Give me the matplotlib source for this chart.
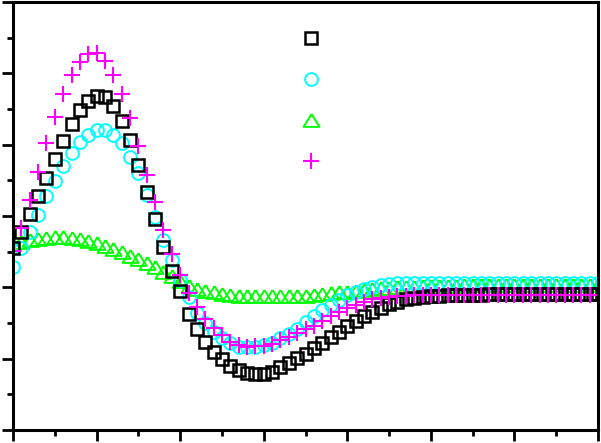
import numpy as np
import matplotlib
matplotlib.use('Agg')
from matplotlib import pyplot as plt
from matplotlib.ticker import MultipleLocator, NullFormatter

# 71 samples, step 0.1
x = np.round(np.arange(71) * 0.1, 1)

squares = [-0.90, -0.45, 0.06, 0.56, 1.07, 1.60, 2.10, 2.58, 2.97, 3.22,
           3.36, 3.34, 3.08, 2.66, 2.13, 1.43, 0.67, -0.08, -0.87, -1.54,
           -2.10, -2.75, -3.17, -3.53, -3.81, -4.01, -4.21, -4.32, -4.40, -4.43,
           -4.43, -4.37, -4.23, -4.12, -3.98, -3.87, -3.70, -3.56, -3.39, -3.25,
           -3.08, -2.94, -2.80, -2.69, -2.58, -2.47, -2.41, -2.33, -2.30, -2.27,
           -2.24, -2.23, -2.22, -2.21, -2.21, -2.21, -2.21, -2.20, -2.20, -2.20,
           -2.20, -2.20, -2.20, -2.20, -2.20, -2.20, -2.20, -2.20, -2.20, -2.20,
           -2.20]

circles = [-1.43, -0.90, -0.45, 0.03, 0.56, 0.98, 1.40, 1.77, 2.07, 2.27,
           2.41, 2.41, 2.27, 2.05, 1.65, 1.21, 0.59, -0.03, -0.67, -1.23,
           -1.79, -2.27, -2.72, -3.00, -3.25, -3.42, -3.56, -3.67, -3.67, -3.67,
           -3.62, -3.56, -3.42, -3.31, -3.17, -2.97, -2.80, -2.64, -2.50, -2.35,
           -2.21, -2.13, -2.05, -1.99, -1.93, -1.91, -1.89, -1.88, -1.88, -1.88,
           -1.88, -1.88, -1.88, -1.88, -1.88, -1.88, -1.88, -1.88, -1.88, -1.88,
           -1.88, -1.88, -1.88, -1.88, -1.88, -1.88, -1.88, -1.88, -1.88, -1.88,
           -1.88]

triangles = [-0.78, -0.73, -0.67, -0.64, -0.62, -0.60, -0.60, -0.62, -0.64, -0.70,
             -0.76, -0.84, -0.93, -1.01, -1.12, -1.21, -1.32, -1.43, -1.57, -1.68,
             -1.82, -1.96, -2.05, -2.10, -2.14, -2.19, -2.21, -2.23, -2.24, -2.24,
             -2.24, -2.24, -2.24, -2.24, -2.24, -2.23, -2.21, -2.20, -2.17, -2.14,
             -2.12, -2.09, -2.07, -2.05, -2.03, -2.02, -2.00, -1.99, -1.98, -1.96,
             -1.95, -1.95, -1.95, -1.95, -1.94, -1.94, -1.94, -1.94, -1.94, -1.94,
             -1.94, -1.94, -1.94, -1.94, -1.94, -1.94, -1.94, -1.94, -1.94, -1.94,
             -1.94]

pluses = [-0.98, -0.34, 0.45, 1.23, 2.05, 2.78, 3.42, 3.95, 4.32, 4.54,
          4.57, 4.35, 3.95, 3.42, 2.75, 1.96, 1.15, 0.39, -0.39, -1.07,
          -1.65, -2.16, -2.55, -2.89, -3.14, -3.34, -3.53, -3.62, -3.67, -3.64,
          -3.64, -3.59, -3.48, -3.39, -3.28, -3.17, -3.08, -2.94, -2.80, -2.69,
          -2.58, -2.50, -2.41, -2.33, -2.30, -2.27, -2.24, -2.23, -2.21, -2.21,
          -2.21, -2.21, -2.21, -2.21, -2.21, -2.21, -2.21, -2.21, -2.21, -2.21,
          -2.21, -2.21, -2.21, -2.21, -2.21, -2.21, -2.21, -2.21, -2.21, -2.21,
          -2.21]

# wide, flat triangle like the original
tri = [(0, 0.8), (-1, -0.8), (1, -0.8), (0, 0.8)]

fig = plt.figure(figsize=(6.01, 4.43), dpi=100)
ax = fig.add_axes([13 / 601, 13 / 443, 585 / 601, 428 / 443])

h_t, = ax.plot(x, triangles, ls='none', marker=tri, ms=11.5, mfc='none',
               mec='#00ff00', mew=1.4)
h_c, = ax.plot(x, circles, ls='none', marker='o', ms=9.2, mfc='none',
               mec='#00ffff', mew=1.4)
h_s, = ax.plot(x, squares, ls='none', marker='s', ms=8, mfc='none',
               mec='black', mew=1.8)
h_p, = ax.plot(x, pluses, ls='none', marker='+', ms=11, mec='#ff00ff', mew=1.5)

ax.set_xlim(0, 7)
ax.set_ylim(-6, 6)

ax.xaxis.set_major_locator(MultipleLocator(1))
ax.xaxis.set_minor_locator(MultipleLocator(0.5))
ax.yaxis.set_major_locator(MultipleLocator(2))
ax.yaxis.set_minor_locator(MultipleLocator(1))
ax.xaxis.set_major_formatter(NullFormatter())
ax.yaxis.set_major_formatter(NullFormatter())

ax.tick_params(which='both', direction='out', top=False, right=False, width=2)
ax.tick_params(which='major', length=8)
ax.tick_params(which='minor', length=4.5)
for s in ax.spines.values():
    s.set_linewidth(2.2)

ax.legend([h_s, h_c, h_t, h_p], ['', '', '', ''], loc='center',
          bbox_to_anchor=(0.509, 0.770), frameon=False, numpoints=1,
          handlelength=1.0, handletextpad=0, labelspacing=1.95, fontsize=10)

fig.savefig('out.png', dpi=100)
